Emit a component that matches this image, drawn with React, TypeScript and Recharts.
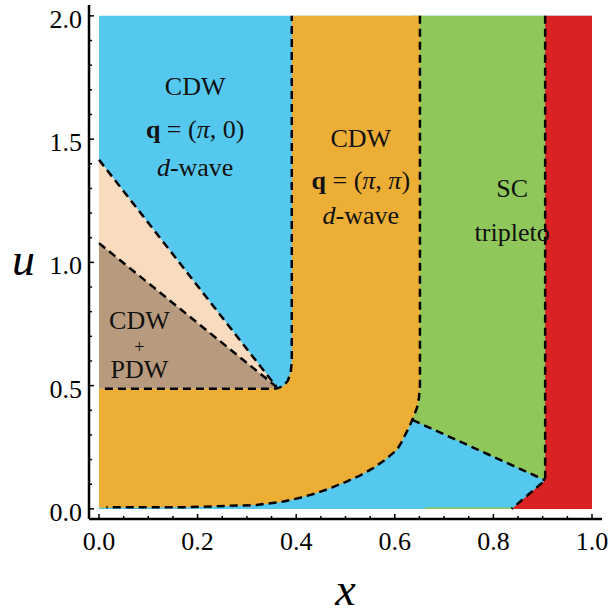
import React from 'react';
import { ComposedChart, Area, Line, XAxis, YAxis, ReferenceDot } from 'recharts';

// axis ticks
const xTicks = [0, 0.05, 0.1, 0.15, 0.2, 0.25, 0.3, 0.35, 0.4, 0.45, 0.5, 0.55, 0.6, 0.65, 0.7, 0.75, 0.8, 0.85, 0.9, 0.95, 1.0];
const xMajor = [0, 0.2, 0.4, 0.6, 0.8, 1.0];
const yTicks = [0, 0.1, 0.2, 0.3, 0.4, 0.5, 0.6, 0.7, 0.8, 0.9, 1.0, 1.1, 1.2, 1.3, 1.4, 1.5, 1.6, 1.7, 1.8, 1.9, 2.0];
const yMajor = [0, 0.5, 1.0, 1.5, 2.0];

// phase regions, r = [lower u, upper u] at each x
const blueFill = [
  { x: 0, r: [0, 2] },
  { x: 1, r: [0, 2] },
];
const peachFill = [
  { x: 0, r: [0.487, 1.416] },
  { x: 0.36, r: [0.487, 0.495] },
];
const brownFill = [
  { x: 0, r: [0.487, 1.078] },
  { x: 0.36, r: [0.487, 0.495] },
];
const greenFill = [
  { x: 0.6355, r: [0.361, 2] },
  { x: 0.905, r: [0.116, 2] },
];
const greenStrip = [
  { x: 0.661, r: [0, 0.006] },
  { x: 0.837, r: [0, 0.006] },
];
const redFill = [
  { x: 0.837, r: [0, 0] },
  { x: 0.905, r: [0, 0.116] },
  { x: 0.905, r: [0, 2] },
  { x: 1, r: [0, 2] },
];
const orangeFill = [
  { x: 0, r: [0.005, 0.487] },
  { x: 0.18, r: [0.007, 0.487] },
  { x: 0.32, r: [0.016, 0.487] },
  { x: 0.35, r: [0.022, 0.487] },
  { x: 0.362, r: [0.025, 0.489] },
  { x: 0.374, r: [0.03, 0.499] },
  { x: 0.383, r: [0.033, 0.52] },
  { x: 0.389, r: [0.036, 0.555] },
  { x: 0.391, r: [0.037, 0.6] },
  { x: 0.391, r: [0.037, 2] },
  { x: 0.408, r: [0.045, 2] },
  { x: 0.4415, r: [0.064, 2] },
  { x: 0.472, r: [0.086, 2] },
  { x: 0.502, r: [0.111, 2] },
  { x: 0.53, r: [0.136, 2] },
  { x: 0.556, r: [0.165, 2] },
  { x: 0.58, r: [0.199, 2] },
  { x: 0.604, r: [0.239, 2] },
  { x: 0.613, r: [0.268, 2] },
  { x: 0.621, r: [0.3, 2] },
  { x: 0.629, r: [0.331, 2] },
  { x: 0.6355, r: [0.361, 2] },
  { x: 0.645, r: [0.41, 2] },
  { x: 0.649, r: [0.45, 2] },
  { x: 0.651, r: [0.5, 2] },
];

// dashed phase boundaries
const dashUpper = [
  { x: 0, u: 1.416 },
  { x: 0.36, u: 0.495 },
];
const dashLower = [
  { x: 0, u: 1.078 },
  { x: 0.36, u: 0.495 },
];
const dashLeftL = [
  { x: 0.012, u: 0.487 },
  { x: 0.35, u: 0.487 },
  { x: 0.362, u: 0.489 },
  { x: 0.374, u: 0.499 },
  { x: 0.383, u: 0.52 },
  { x: 0.389, u: 0.555 },
  { x: 0.391, u: 0.6 },
  { x: 0.391, u: 2.0 },
];
const dashRightL = [
  { x: 0.651, u: 2.0 },
  { x: 0.651, u: 0.5 },
  { x: 0.649, u: 0.45 },
  { x: 0.645, u: 0.41 },
  { x: 0.6355, u: 0.361 },
  { x: 0.629, u: 0.331 },
  { x: 0.621, u: 0.3 },
  { x: 0.613, u: 0.268 },
  { x: 0.604, u: 0.239 },
  { x: 0.58, u: 0.199 },
  { x: 0.556, u: 0.165 },
  { x: 0.53, u: 0.136 },
  { x: 0.502, u: 0.111 },
  { x: 0.472, u: 0.086 },
  { x: 0.4415, u: 0.064 },
  { x: 0.408, u: 0.045 },
  { x: 0.374, u: 0.03 },
  { x: 0.32, u: 0.016 },
  { x: 0.18, u: 0.007 },
  { x: 0.015, u: 0.007 },
];
const dashGreen = [
  { x: 0.6355, u: 0.361 },
  { x: 0.905, u: 0.116 },
];
const dashRed = [
  { x: 0.905, u: 2.0 },
  { x: 0.905, u: 0.116 },
  { x: 0.837, u: 0 },
];

type Part = { t: string; b?: boolean; i?: boolean };
const regionLabels: { x: number; u: number; size: number; parts: Part[] }[] = [
  { x: 0.195, u: 1.68, size: 26, parts: [{ t: 'CDW' }] },
  { x: 0.195, u: 1.505, size: 26, parts: [{ t: 'q', b: true }, { t: ' = (' }, { t: 'π', i: true }, { t: ', 0)' }] },
  { x: 0.195, u: 1.351, size: 26, parts: [{ t: 'd', i: true }, { t: '-wave' }] },
  { x: 0.531, u: 1.469, size: 26, parts: [{ t: 'CDW' }] },
  { x: 0.531, u: 1.298, size: 26, parts: [{ t: 'q', b: true }, { t: ' = (' }, { t: 'π', i: true }, { t: ', ' }, { t: 'π', i: true }, { t: ')' }] },
  { x: 0.531, u: 1.156, size: 26, parts: [{ t: 'd', i: true }, { t: '-wave' }] },
  { x: 0.838, u: 1.266, size: 26, parts: [{ t: 'SC' }] },
  { x: 0.838, u: 1.087, size: 26, parts: [{ t: 'tripleto' }] },
  { x: 0.082, u: 0.728, size: 26, parts: [{ t: 'CDW' }] },
  { x: 0.082, u: 0.632, size: 18, parts: [{ t: '+' }] },
  { x: 0.082, u: 0.529, size: 26, parts: [{ t: 'PDW' }] },
];

const FONT = "'Liberation Serif', 'DejaVu Serif', serif";
const X_DOMAIN: [number, number] = [-0.0203, 1.0203];
const Y_DOMAIN: [number, number] = [-0.041, 2.044];

const isMajor = (v: number, majors: number[]) => majors.some((m) => Math.abs(m - v) < 1e-6);

const makeTick = (side: 'bottom' | 'top' | 'left' | 'right', majors: number[]) => (props: any) => {
  const { x, y, payload } = props;
  const major = isMajor(payload.value, majors);
  const len = major ? 5 : 3;
  let line;
  if (side === 'bottom') line = <line x1={x} y1={y} x2={x} y2={y - len} />;
  else if (side === 'top') line = <line x1={x} y1={y} x2={x} y2={y + len} />;
  else if (side === 'left') line = <line x1={x} y1={y} x2={x + len} y2={y} />;
  else line = <line x1={x} y1={y} x2={x - len} y2={y} />;
  return (
    <g stroke="#000" strokeWidth={1.5}>
      {line}
      {major && side === 'bottom' && (
        <text x={x} y={y + 31} textAnchor="middle" stroke="none" fill="#000" fontSize={26} fontFamily={FONT}>
          {payload.value.toFixed(1)}
        </text>
      )}
      {major && side === 'left' && (
        <text x={x - 7} y={y + 12} textAnchor="end" stroke="none" fill="#000" fontSize={26} fontFamily={FONT}>
          {payload.value.toFixed(1)}
        </text>
      )}
    </g>
  );
};

const RegionText = ({ cx, cy, parts, size }: any) => (
  <text x={cx} y={cy} textAnchor="middle" fontSize={size} fontFamily={FONT} fill="#111">
    {parts.map((p: Part, k: number) => (
      <tspan key={k} fontWeight={p.b ? 'bold' : 'normal'} fontStyle={p.i ? 'italic' : 'normal'}>
        {p.t}
      </tspan>
    ))}
  </text>
);

const frame = { stroke: '#000', strokeWidth: 2.5 };

export default function App() {
  const fills: [any[], string][] = [
    [blueFill, '#55C8EF'],
    [peachFill, '#F9DCBF'],
    [brownFill, '#B89B7E'],
    [greenFill, '#8FC75B'],
    [greenStrip, '#8FC75B'],
    [redFill, '#DA2124'],
    [orangeFill, '#EDAE35'],
  ];
  const dashes = [dashUpper, dashLower, dashLeftL, dashRightL, dashGreen, dashRed];

  return (
    <div style={{ position: 'absolute', left: 0, top: 0, background: '#fff' }}>
      <ComposedChart width={612} height={614} margin={{ top: 5, right: 10, bottom: 0, left: 0 }}>
        <XAxis
          dataKey="x"
          type="number"
          domain={X_DOMAIN}
          allowDataOverflow
          ticks={xTicks}
          interval={0}
          tickSize={0}
          tickMargin={0}
          tickLine={false}
          axisLine={frame}
          tick={makeTick('bottom', xMajor)}
          height={95}
          label={{
            content: (p: any) => {
              const vb = p.viewBox;
              return (
                <text x={vb.x + vb.width / 2} y={vb.y + 86} textAnchor="middle" fontSize={46} fontStyle="italic" fontFamily={FONT}>
                  x
                </text>
              );
            },
          }}
        />
        <XAxis
          xAxisId="top"
          orientation="top"
          dataKey="x"
          type="number"
          domain={X_DOMAIN}
          allowDataOverflow
          ticks={xTicks}
          interval={0}
          tickSize={0}
          tickMargin={0}
          tickLine={false}
          axisLine={frame}
          tick={makeTick('top', xMajor)}
          height={0}
        />
        <YAxis
          type="number"
          domain={Y_DOMAIN}
          allowDataOverflow
          ticks={yTicks}
          interval={0}
          tickSize={0}
          tickMargin={0}
          tickLine={false}
          axisLine={frame}
          tick={makeTick('left', yMajor)}
          width={89}
          label={{
            content: (p: any) => {
              const vb = p.viewBox;
              return (
                <text x={vb.x + 23.5} y={vb.y + vb.height / 2 + 13} textAnchor="middle" fontSize={46} fontStyle="italic" fontFamily={FONT}>
                  u
                </text>
              );
            },
          }}
        />
        <YAxis
          yAxisId="right"
          orientation="right"
          type="number"
          domain={Y_DOMAIN}
          allowDataOverflow
          ticks={yTicks}
          interval={0}
          tickSize={0}
          tickMargin={0}
          tickLine={false}
          axisLine={frame}
          tick={makeTick('right', yMajor)}
          width={0}
        />

        {fills.map(([d, c], k) => (
          <Area
            key={'f' + k}
            data={d}
            dataKey="r"
            type="linear"
            stroke="none"
            fill={c}
            fillOpacity={1}
            dot={false}
            activeDot={false}
            isAnimationActive={false}
          />
        ))}

        {dashes.map((d, k) => (
          <Line
            key={'d' + k}
            data={d}
            dataKey="u"
            type="linear"
            stroke="#000"
            strokeWidth={2.5}
            strokeDasharray="8 5"
            dot={false}
            activeDot={false}
            isAnimationActive={false}
          />
        ))}

        {regionLabels.map((l, k) => (
          <ReferenceDot
            key={'t' + k}
            x={l.x}
            y={l.u}
            r={0}
            ifOverflow="visible"
            shape={(p: any) => <RegionText cx={p.cx} cy={p.cy} parts={l.parts} size={l.size} />}
          />
        ))}
      </ComposedChart>
    </div>
  );
}
